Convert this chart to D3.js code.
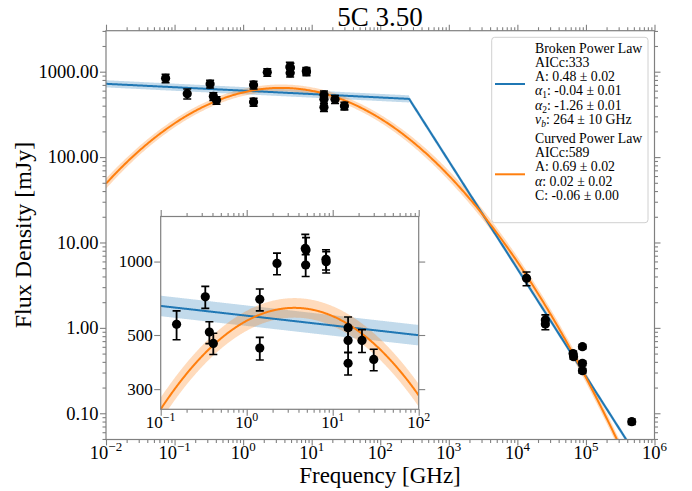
<!DOCTYPE html>
<html>
<head>
<meta charset="utf-8">
<script src="https://cdn.jsdelivr.net/npm/d3@7"></script>
<style>
  html, body { margin: 0; padding: 0; background: #fff; }
  svg, svg text { font-family: "Liberation Serif", "Times New Roman", Times, "DejaVu Serif", serif; }
</style>
</head>
<body>
<svg id="chart" width="692" height="491"></svg>
<script>
// ---- Measured flux densities of 5C 3.50 (GHz, mJy, 1-sigma mJy) ----
const freqGHz = [0.074, 0.153, 0.33, 0.368, 0.409, 1.42, 1.42, 2.25, 4.8, 4.9, 4.85,
                 8.35, 8.4, 15.1, 15.1, 15.1, 21.9, 30.0,
                 13600, 25600, 25600, 64900, 66000, 88900, 88900, 88900, 466000];
const fluxMJy = [837, 553, 717, 514, 462, 700, 442, 983, 1132, 1114, 968,
                 1021, 998, 536, 475, 383, 475, 397,
                 3.81, 1.24, 1.11, 0.50, 0.46, 0.603, 0.385, 0.315, 0.0798];
const errMJy  = [92, 75, 74, 53, 46, 72, 47, 100, 160, 140, 100,
                 97, 100, 57, 50, 40, 51, 40,
                 0.7, 0.18, 0.16, 0.03, 0.03, 0.035, 0.025, 0.02, 0.006];

// ---- Broken power-law fit ----
const bplA = 0.48;          // Jy at the break
const bplAlpha1 = -0.04;
const bplAlpha2 = -1.26;
const bplBreakGHz = 264;

// ---- Curved power-law fit, as a log-parabola about its peak ----
const cplPeakGHz = 3.59;
const cplPeakMJy = 646;
const cplCurv = -0.1717;    // dex per dex^2

// ---- Tick values and labels ----
const mainXTicks = [1e-2, 1e-1, 1e0, 1e1, 1e2, 1e3, 1e4, 1e5, 1e6];
const mainXExp = ["−2", "−1", "0", "1", "2", "3", "4", "5", "6"];
const mainYTicks = [0.1, 1, 10, 100, 1000];
const mainYLabels = ["0.10", "1.00", "10.00", "100.00", "1000.00"];
const insetXTicks = [0.1, 1, 10, 100];
const insetXExp = ["−1", "0", "1", "2"];
const insetYTicks = [300, 500, 1000];
const insetYLabels = ["300", "500", "1000"];

// ---- Legend text (segments: [text, style]) ----
const legendBroken = [
  [["Broken Power Law", ""]],
  [["AICc:333", ""]],
  [["A: 0.48 ± 0.02", ""]],
  [["α", "i"], ["1", "sub"], [": -0.04 ± 0.01", ""]],
  [["α", "i"], ["2", "sub"], [": -1.26 ± 0.01", ""]],
  [["ν", "i"], ["b", "isub"], [": 264 ± 10 GHz", ""]]
];
const legendCurved = [
  [["Curved Power Law", ""]],
  [["AICc:589", ""]],
  [["A: 0.69 ± 0.02", ""]],
  [["α", "i"], [": 0.02 ± 0.02", ""]],
  [["C: -0.06 ± 0.00", ""]]
];

const BLUE = "#1f77b4", ORANGE = "#ff7f0e", SPINE = "#808080";
const SERIF = '"Liberation Serif", "Times New Roman", Times, "DejaVu Serif", serif';

// ---- Models ----
function brokenPL(nu) {
  const a = nu < bplBreakGHz ? bplAlpha1 : bplAlpha2;
  return bplA * 1000 * Math.pow(nu / bplBreakGHz, a);
}
function brokenBand(nu) { return nu < bplBreakGHz ? 0.042 : 0.03; }
function curvedPL(nu) {
  const d = Math.log10(nu / cplPeakGHz);
  return cplPeakMJy * Math.pow(10, cplCurv * d * d);
}
function curvedBand(nu) {
  const d = Math.log10(nu / cplPeakGHz);
  return 0.04 + 0.003 * Math.min(d * d, 6.5);
}
function sampleGrid(lo, hi, n, extra) {
  const pts = d3.range(n + 1).map(i => Math.pow(10, Math.log10(lo) + (Math.log10(hi) - Math.log10(lo)) * i / n));
  (extra || []).forEach(e => { if (e > lo && e < hi) pts.push(e); });
  return pts.sort((a, b) => a - b);
}

const svg = d3.select("#chart").attr("font-family", SERIF);

function minorTicks(domain) {
  const out = [];
  const lo = Math.floor(Math.log10(domain[0])), hi = Math.ceil(Math.log10(domain[1]));
  for (let e = lo; e <= hi; e++) for (let m = 2; m <= 9; m++) {
    const v = m * Math.pow(10, e);
    if (v >= domain[0] && v <= domain[1]) out.push(v);
  }
  return out;
}

function styleAxis(g) {
  g.select(".domain").remove();
  g.selectAll(".tick line").attr("stroke", SPINE).attr("stroke-width", 1.1);
  g.selectAll(".tick text").remove();
}

// Draw one panel: bands, fitted curves, data points, frame, ticks
function drawPanel(root, x, y, id, opts) {
  const [x0, x1] = x.range(), [y1, y0] = y.range();
  root.append("clipPath").attr("id", id).append("rect")
    .attr("x", x0).attr("y", y0).attr("width", x1 - x0).attr("height", y1 - y0);

  if (opts.background) {
    root.append("rect").attr("x", x0).attr("y", y0).attr("width", x1 - x0).attr("height", y1 - y0)
      .attr("fill", "#fff");
  }
  const plot = root.append("g").attr("clip-path", `url(#${id})`);
  const dom = x.domain();
  const grid = sampleGrid(dom[0], dom[1], 500, [bplBreakGHz]);

  const band = (f, w) => d3.area()
    .x(d => x(d))
    .y0(d => y(f(d) / Math.pow(10, w(d))))
    .y1(d => y(f(d) * Math.pow(10, w(d))));
  const line = f => d3.line().x(d => x(d)).y(d => y(f(d)));

  plot.append("path").datum(grid).attr("d", band(brokenPL, brokenBand))
    .attr("fill", BLUE).attr("fill-opacity", 0.27);
  plot.append("path").datum(grid).attr("d", band(curvedPL, curvedBand))
    .attr("fill", ORANGE).attr("fill-opacity", 0.28);
  plot.append("path").datum(grid).attr("d", line(brokenPL))
    .attr("fill", "none").attr("stroke", BLUE).attr("stroke-width", 2).attr("stroke-linejoin", "round");
  plot.append("path").datum(grid).attr("d", line(curvedPL))
    .attr("fill", "none").attr("stroke", ORANGE).attr("stroke-width", 2);

  const pts = freqGHz.map((f, i) => ({ f, s: fluxMJy[i], e: errMJy[i] }))
    .filter(p => p.f >= dom[0] && p.f <= dom[1]);
  const eb = plot.append("g").selectAll("g").data(pts).join("g");
  eb.append("line")
    .attr("x1", d => x(d.f)).attr("x2", d => x(d.f))
    .attr("y1", d => y(d.s + d.e)).attr("y2", d => y(Math.max(d.s - d.e, 1e-6)))
    .attr("stroke", "#000").attr("stroke-width", 1.8);
  [d => d.s + d.e, d => d.s - d.e].forEach(fn => {
    eb.append("line")
      .attr("x1", d => x(d.f) - 4).attr("x2", d => x(d.f) + 4)
      .attr("y1", d => y(fn(d))).attr("y2", d => y(fn(d)))
      .attr("stroke", "#000").attr("stroke-width", 1.6);
  });
  eb.append("circle").attr("cx", d => x(d.f)).attr("cy", d => y(d.s)).attr("r", 4.6).attr("fill", "#000");

  // Ticks on all four sides, pointing outward
  const major = opts.major, minor = opts.minor;
  const xMinor = minorTicks(dom);
  const addAxis = (axis, tr) => root.append("g").attr("transform", tr).call(axis).call(styleAxis);
  addAxis(d3.axisBottom(x).tickValues(opts.xTicks).tickSize(major).tickSizeOuter(0), `translate(0,${y1})`);
  addAxis(d3.axisBottom(x).tickValues(xMinor).tickSize(minor).tickSizeOuter(0), `translate(0,${y1})`);
  addAxis(d3.axisTop(x).tickValues(opts.xTicks).tickSize(major).tickSizeOuter(0), `translate(0,${y0})`);
  addAxis(d3.axisTop(x).tickValues(xMinor).tickSize(minor).tickSizeOuter(0), `translate(0,${y0})`);
  addAxis(d3.axisLeft(y).tickValues(opts.yTicks).tickSize(major).tickSizeOuter(0), `translate(${x0},0)`);
  addAxis(d3.axisRight(y).tickValues(opts.yTicks).tickSize(major).tickSizeOuter(0), `translate(${x1},0)`);
  if (opts.yMinor) {
    const yMinor = minorTicks(y.domain());
    addAxis(d3.axisLeft(y).tickValues(yMinor).tickSize(minor).tickSizeOuter(0), `translate(${x0},0)`);
    addAxis(d3.axisRight(y).tickValues(yMinor).tickSize(minor).tickSizeOuter(0), `translate(${x1},0)`);
  }

  root.append("rect").attr("x", x0).attr("y", y0).attr("width", x1 - x0).attr("height", y1 - y0)
    .attr("fill", "none").attr("stroke", SPINE).attr("stroke-width", 1.2);

  // Tick labels
  const xl = root.append("g").selectAll("text").data(opts.xTicks).join("text")
    .attr("x", d => x(d)).attr("y", y1 + opts.xLabelDy)
    .attr("text-anchor", "middle").attr("font-size", opts.font).attr("fill", "#000");
  xl.append("tspan").text("10");
  xl.append("tspan").attr("dy", -opts.font * 0.42).attr("font-size", opts.font * 0.7)
    .text((d, i) => opts.xExp[i]);

  root.append("g").selectAll("text").data(opts.yTicks).join("text")
    .attr("x", x0 - major - 1.5).attr("y", d => y(d)).attr("dy", "0.34em")
    .attr("text-anchor", "end").attr("font-size", opts.font).attr("fill", "#000")
    .text((d, i) => opts.yLabels[i]);
}

// ---- Main panel ----
const xMain = d3.scaleLog().domain([1e-2, 1e6]).range([106, 654.5]);
const yMain = d3.scaleLog().domain([0.0493, 3020]).range([439.5, 30.7]);
const mainG = svg.append("g");
drawPanel(mainG, xMain, yMain, "clipMain", {
  xTicks: mainXTicks, xExp: mainXExp, yTicks: mainYTicks, yLabels: mainYLabels,
  major: 6, minor: 3.5, yMinor: true, font: 18.5, xLabelDy: 19
});

// ---- Title and axis titles ----
svg.append("text").attr("x", 380).attr("y", 25.7).attr("text-anchor", "middle")
  .attr("font-size", 27).text("5C 3.50");
svg.append("text").attr("x", 380).attr("y", 483).attr("text-anchor", "middle")
  .attr("font-size", 23).text("Frequency [GHz]");
svg.append("text").attr("transform", "translate(31,235) rotate(-90)").attr("text-anchor", "middle")
  .attr("font-size", 24).text("Flux Density [mJy]");

// ---- Legend ----
const leg = svg.append("g");
leg.append("rect").attr("x", 491.7).attr("y", 37.3).attr("width", 156.3).attr("height", 185.4)
  .attr("rx", 3).attr("fill", "#fff").attr("fill-opacity", 0.8)
  .attr("stroke", "#d0d0d0").attr("stroke-width", 1);
function legendBlock(lines, baseY, step) {
  lines.forEach((segs, i) => {
    const t = leg.append("text").attr("x", 535).attr("y", baseY + i * step).attr("font-size", 13.8);
    segs.forEach(([txt, st]) => {
      const sp = t.append("tspan").text(txt);
      if (st === "i" || st === "isub") sp.attr("font-style", "italic");
      if (st === "sub" || st === "isub") sp.attr("font-size", 9.5).attr("dy", 3);
      else if (sp.node().previousSibling && sp.node().previousSibling.getAttribute("dy") === "3") sp.attr("dy", -3);
    });
  });
}
legendBlock(legendBroken, 52.8, 14.2);
legendBlock(legendCurved, 142.8, 14.3);
leg.append("line").attr("x1", 495).attr("x2", 525).attr("y1", 84).attr("y2", 84)
  .attr("stroke", BLUE).attr("stroke-width", 2);
leg.append("line").attr("x1", 495).attr("x2", 525).attr("y1", 174.3).attr("y2", 174.3)
  .attr("stroke", ORANGE).attr("stroke-width", 2);

// ---- Inset zoom on 0.1–100 GHz ----
const xIn = d3.scaleLog().domain([0.1, 100]).range([160.7, 418.7]);
const yIn = d3.scaleLog().domain([248, 1530]).range([409.3, 216.5]);
const insetG = svg.append("g");
drawPanel(insetG, xIn, yIn, "clipInset", {
  xTicks: insetXTicks, xExp: insetXExp, yTicks: insetYTicks, yLabels: insetYLabels,
  major: 6.5, minor: 3.5, yMinor: false, font: 17, xLabelDy: 19, background: true
});

svg.selectAll("text").attr("font-family", SERIF);
</script>
</body>
</html>
